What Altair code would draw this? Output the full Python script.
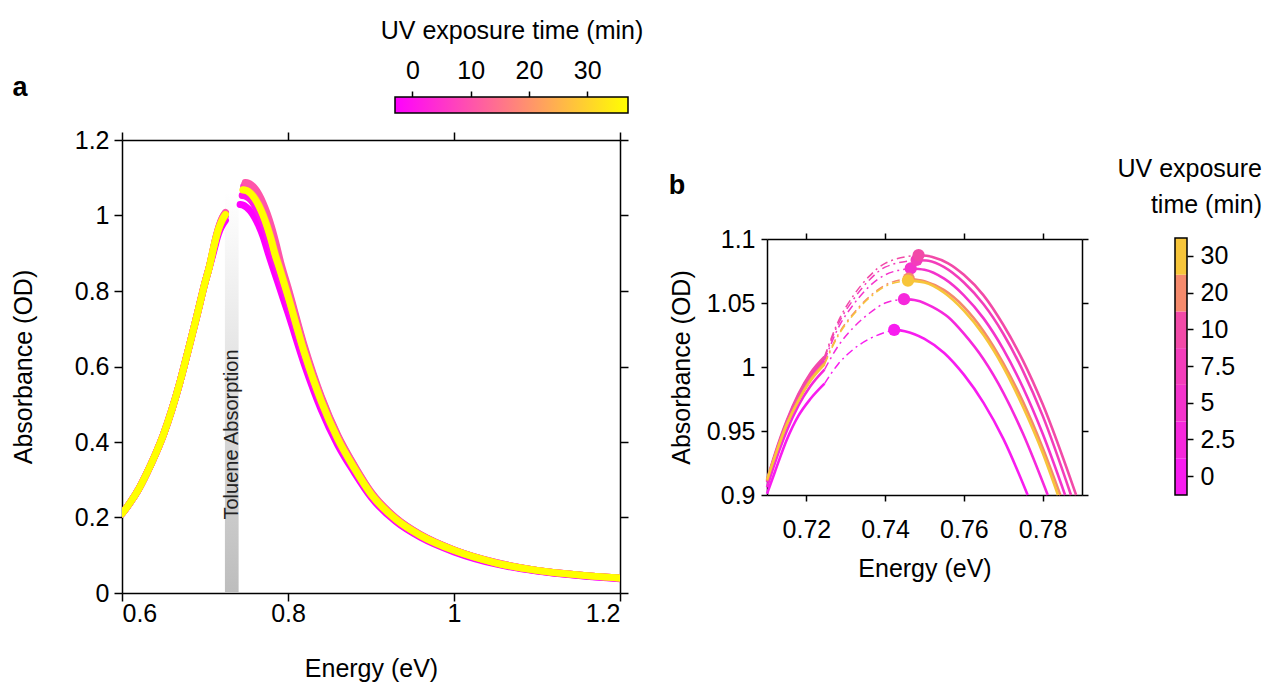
import altair as alt
import pandas as pd

FONT = "Liberation Sans"
FS = 25  # axis text size

# UV exposure times (min) and the colour used for each
times = ["0", "2.5", "5", "7.5", "10", "20", "30"]
line_colors_a = ["#ff00ff", "#ff15ea", "#ff2ad5", "#ff40bf", "#ff55aa", "#ffaa55", "#ffff00"]
line_colors_b = ["#f81cf0", "#f628dc", "#f433cc", "#f33dbb", "#f24aa8", "#f58a6c", "#f7c53a"]

# low-energy flank of the band-edge peak (identical for all exposure times)
low_E = [0.600, 0.610, 0.620, 0.630, 0.640, 0.650, 0.660, 0.670, 0.680, 0.690, 0.700, 0.705]
low_A = [0.210, 0.240, 0.275, 0.318, 0.366, 0.420, 0.485, 0.560, 0.645, 0.732, 0.822, 0.862]

# measured points just below the toluene band
pre_E = [0.710, 0.712, 0.715, 0.718, 0.721, 0.7246]
pre_A = [
    [0.901, 0.918, 0.943, 0.962, 0.975, 0.987],
    [0.906, 0.925, 0.950, 0.970, 0.985, 0.998],
    [0.910, 0.930, 0.955, 0.976, 0.992, 1.005],
    [0.911, 0.931, 0.957, 0.978, 0.994, 1.007],
    [0.912, 0.932, 0.958, 0.979, 0.995, 1.008],
    [0.911, 0.930, 0.955, 0.974, 0.990, 1.003],
    [0.912, 0.930, 0.955, 0.974, 0.989, 1.002],
]

# fitted peak position (dots) for each exposure time
peak_E = [0.7423, 0.7448, 0.7465, 0.7480, 0.7485, 0.7460, 0.7458]
peak_A = [1.029, 1.053, 1.077, 1.0836, 1.0875, 1.069, 1.0675]

# fit across the toluene band, ending at the peak
fit_E = [0.7246, 0.728, 0.732, 0.736, 0.740]
fit_A = [
    [0.987, 1.002, 1.014, 1.022, 1.027],
    [0.998, 1.016, 1.031, 1.042, 1.050],
    [1.005, 1.030, 1.049, 1.063, 1.072],
    [1.007, 1.033, 1.053, 1.068, 1.078],
    [1.008, 1.035, 1.056, 1.071, 1.081],
    [1.003, 1.025, 1.042, 1.055, 1.064],
    [1.002, 1.024, 1.041, 1.054, 1.063],
]

# high-energy side right after the peak
post_E = [
    [0.745, 0.750, 0.755, 0.760, 0.765, 0.770, 0.7762],
    [0.748, 0.752, 0.756, 0.760, 0.765, 0.770, 0.775, 0.7813],
    [0.750, 0.755, 0.760, 0.765, 0.770, 0.775, 0.780, 0.7857],
    [0.751, 0.755, 0.760, 0.765, 0.770, 0.775, 0.780, 0.7872],
    [0.752, 0.756, 0.760, 0.765, 0.770, 0.775, 0.780, 0.7885],
    [0.750, 0.755, 0.760, 0.765, 0.770, 0.775, 0.780, 0.7845],
    [0.750, 0.755, 0.760, 0.765, 0.770, 0.775, 0.780, 0.7839],
]
post_A = [
    [1.028, 1.022, 1.011, 0.994, 0.972, 0.944, 0.900],
    [1.052, 1.047, 1.039, 1.026, 1.006, 0.980, 0.948, 0.900],
    [1.076, 1.069, 1.056, 1.038, 1.014, 0.984, 0.948, 0.900],
    [1.083, 1.078, 1.066, 1.049, 1.026, 0.997, 0.962, 0.900],
    [1.086, 1.081, 1.072, 1.056, 1.033, 1.005, 0.971, 0.900],
    [1.067, 1.060, 1.047, 1.028, 1.003, 0.973, 0.937, 0.900],
    [1.066, 1.058, 1.044, 1.025, 1.000, 0.969, 0.933, 0.900],
]

# long high-energy tail
tail_E = [0.79, 0.80, 0.82, 0.84, 0.86, 0.88, 0.90, 0.93, 0.96, 1.00, 1.05, 1.10, 1.15, 1.20]
tail_A = [
    [0.808, 0.742, 0.604, 0.486, 0.392, 0.319, 0.254, 0.189, 0.147, 0.109, 0.077, 0.058, 0.046, 0.038],
    [0.836, 0.768, 0.620, 0.498, 0.401, 0.325, 0.258, 0.192, 0.150, 0.111, 0.079, 0.059, 0.047, 0.039],
    [0.861, 0.795, 0.641, 0.514, 0.413, 0.334, 0.265, 0.197, 0.153, 0.114, 0.080, 0.060, 0.048, 0.040],
    [0.874, 0.803, 0.647, 0.518, 0.416, 0.336, 0.267, 0.198, 0.154, 0.114, 0.081, 0.060, 0.048, 0.040],
    [0.886, 0.810, 0.652, 0.521, 0.418, 0.338, 0.268, 0.199, 0.154, 0.114, 0.081, 0.060, 0.048, 0.040],
    [0.862, 0.789, 0.636, 0.510, 0.409, 0.331, 0.263, 0.196, 0.152, 0.113, 0.080, 0.060, 0.048, 0.040],
    [0.858, 0.786, 0.634, 0.508, 0.408, 0.330, 0.262, 0.195, 0.152, 0.113, 0.080, 0.060, 0.048, 0.040],
]

toluene_band = [0.724, 0.7405]
cbar_range = [-3, 37]
cbar_ticks = [0, 10, 20, 30]

# ---------------- layout (pixels, relative to panel a's plot area) ----------------
W_A, H_A = 498, 453
B_X = [645, 960]      # panel b plot area, horizontal
B_Y = [99, 355]       # panel b plot area, vertical (top, bottom)
CBA_X = [273, 506]    # horizontal colour bar
CBA_Y = [-43, -27]
CBB_X = [1053, 1065]  # vertical colour bar
CBB_Y = [98, 355]

# ---------------- scales ----------------
xa_scale = alt.Scale(domain=[0.6, 1.2], nice=False, zero=False)
ya_scale = alt.Scale(domain=[0, 1.2], nice=False, zero=False)
xb_scale = alt.Scale(domain=[0.71, 0.79], nice=False, zero=False, range=B_X)
yb_scale = alt.Scale(domain=[0.9, 1.1], nice=False, zero=False, range=[B_Y[1], B_Y[0]])
xa_vals = [0.6, 0.8, 1.0, 1.2]
ya_vals = [0, 0.2, 0.4, 0.6, 0.8, 1.0, 1.2]
xb_vals = [0.72, 0.74, 0.76, 0.78]
yb_vals = [0.9, 0.95, 1.0, 1.05, 1.1]


def xa(axis=None):
    return alt.X("E:Q", scale=xa_scale, axis=axis)


def ya(axis=None):
    return alt.Y("A:Q", scale=ya_scale, axis=axis)


def xb(axis=None):
    return alt.X("E:Q", scale=xb_scale, axis=axis)


def yb(axis=None):
    return alt.Y("A:Q", scale=yb_scale, axis=axis)


anchor_a = pd.DataFrame({"E": [0.9], "A": [0.6]})
anchor_b = pd.DataFrame({"E": [0.75], "A": [1.0]})
one = pd.DataFrame({"v": [0]})

# ---------------- panel a frame ----------------
a_main = alt.Chart(anchor_a).mark_point(opacity=0).encode(
    x=xa(alt.Axis(orient="bottom", values=xa_vals, format="~g", title="Energy (eV)",
                  tickSize=8, labelPadding=0, titlePadding=30)),
    y=ya(alt.Axis(orient="left", values=ya_vals, format="~g", title="Absorbance (OD)",
                  tickSize=8, labelPadding=5, titlePadding=38)),
)
a_mirror = alt.Chart(anchor_a).mark_point(opacity=0).encode(
    x=xa(alt.Axis(orient="top", values=xa_vals, labels=False, title=None, tickSize=8)),
    y=ya(alt.Axis(orient="right", values=ya_vals, labels=False, title=None, tickSize=8)),
)

band_df = pd.DataFrame({"lo": [toluene_band[0]], "hi": [toluene_band[1]], "b0": [0.0], "b1": [1.06]})
band_fill = alt.LinearGradient(
    gradient="linear",
    stops=[alt.GradientStop(color="#ffffff", offset=0),
           alt.GradientStop(color="#ececec", offset=0.3),
           alt.GradientStop(color="#bdbdbd", offset=1)],
    x1=0, x2=0, y1=0, y2=1,
)
band = alt.Chart(band_df).mark_rect(fill=band_fill).encode(
    x=alt.X("lo:Q", scale=xa_scale, axis=None), x2="hi:Q",
    y=alt.Y("b0:Q", scale=ya_scale, axis=None), y2="b1:Q",
)
band_label = alt.Chart(pd.DataFrame({"E": [sum(toluene_band) / 2], "A": [0.42]})).mark_text(
    text="Toluene Absorption", angle=270, font=FONT, fontSize=20, color="#222222",
).encode(x=xa(), y=ya())

curves_a = []
for i, t in enumerate(times):
    left = pd.DataFrame({"E": low_E + pre_E, "A": low_A + pre_A[i], "seg": "left"})
    right = pd.DataFrame({"E": [peak_E[i]] + post_E[i] + tail_E,
                          "A": [peak_A[i]] + post_A[i] + tail_A[i], "seg": "right"})
    df = pd.concat([left, right], ignore_index=True)
    curves_a.append(
        alt.Chart(df).mark_line(color=line_colors_a[i], strokeWidth=7, strokeCap="round",
                                strokeJoin="round", interpolate="monotone", clip=True).encode(
            x=xa(), y=ya(), detail="seg:N")
    )

tag_a = alt.Chart(one).mark_text(text="a", font=FONT, fontSize=27, fontWeight="bold",
                                 color="black").encode(x=alt.value(-102), y=alt.value(-52))

# ---------------- horizontal colour bar ----------------
cbar_fill = alt.LinearGradient(
    gradient="linear",
    stops=[alt.GradientStop(color="#ff00ff", offset=0), alt.GradientStop(color="#ffff00", offset=1)],
    x1=0, x2=1, y1=0, y2=0,
)
cbar_a = alt.Chart(pd.DataFrame({"lo": [cbar_range[0]], "hi": [cbar_range[1]]})).mark_rect(
    fill=cbar_fill, stroke="black", strokeWidth=1.5).encode(
    x=alt.X("lo:Q", scale=alt.Scale(domain=cbar_range, nice=False, zero=False, range=CBA_X),
            axis=alt.Axis(orient="top", offset=-CBA_Y[0], values=cbar_ticks, domain=False,
                          tickSize=6, labelPadding=8, title="UV exposure time (min)",
                          titlePadding=15)),
    x2="hi:Q",
    y=alt.value(CBA_Y[0]), y2=alt.value(CBA_Y[1]),
)

# ---------------- panel b ----------------
b_main = alt.Chart(anchor_b).mark_point(opacity=0).encode(
    x=xb(alt.Axis(orient="bottom", offset=B_Y[1] - H_A, values=xb_vals, format="~g",
                  title="Energy (eV)", tickSize=6, labelPadding=16, titlePadding=14)),
    y=yb(alt.Axis(orient="left", offset=-B_X[0], values=yb_vals, format="~g",
                  title="Absorbance (OD)", tickSize=6, labelPadding=6, titlePadding=12)),
)
b_mirror = alt.Chart(anchor_b).mark_point(opacity=0).encode(
    x=xb(alt.Axis(orient="top", offset=-B_Y[0], values=xb_vals, labels=False, title=None, tickSize=6)),
    y=yb(alt.Axis(orient="right", offset=B_X[1] - W_A, values=yb_vals, labels=False, title=None,
                  tickSize=6)),
)

series_b = []
for i, t in enumerate(times):
    c = line_colors_b[i]
    solid = pd.concat([
        pd.DataFrame({"E": pre_E, "A": pre_A[i], "seg": "pre"}),
        pd.DataFrame({"E": [peak_E[i]] + post_E[i], "A": [peak_A[i]] + post_A[i], "seg": "post"}),
    ], ignore_index=True)
    fit = pd.DataFrame({"E": fit_E + [peak_E[i]], "A": fit_A[i] + [peak_A[i]]})
    dot = pd.DataFrame({"E": [peak_E[i]], "A": [peak_A[i]]})
    series_b.append(alt.Chart(solid).mark_line(color=c, strokeWidth=2.6,
                                               interpolate="monotone").encode(
        x=xb(), y=yb(), detail="seg:N"))
    series_b.append(alt.Chart(fit).mark_line(color=c, strokeWidth=1.5, strokeDash=[8, 4, 2, 4],
                                             interpolate="monotone").encode(x=xb(), y=yb()))
    series_b.append(alt.Chart(dot).mark_circle(color=c, size=150, opacity=1).encode(x=xb(), y=yb()))

tag_b = alt.Chart(one).mark_text(text="b", font=FONT, fontSize=27, fontWeight="bold",
                                 color="black").encode(x=alt.value(555), y=alt.value(46))

# ---------------- discrete colour bar ----------------
cb_df = pd.DataFrame({"t": times, "c": line_colors_b})
cb_rects = alt.Chart(cb_df).mark_rect().encode(
    y=alt.Y("t:O", sort=times[::-1],
            scale=alt.Scale(paddingInner=0, paddingOuter=0, range=CBB_Y),
            axis=alt.Axis(orient="right", offset=CBB_X[1] - W_A, domain=False, tickSize=6,
                          labelPadding=7, title=None)),
    x=alt.value(CBB_X[0]), x2=alt.value(CBB_X[1]),
    color=alt.Color("c:N", scale=None, legend=None),
)
cb_border = alt.Chart(one).mark_rect(fillOpacity=0, stroke="black", strokeWidth=1.5).encode(
    x=alt.value(CBB_X[0]), x2=alt.value(CBB_X[1]), y=alt.value(CBB_Y[0]), y2=alt.value(CBB_Y[1]))
cb_title = alt.Chart(one).mark_text(
    text=["UV exposure", "time (min)"], font=FONT, fontSize=FS, align="right",
    baseline="alphabetic", lineHeight=36, color="black").encode(
    x=alt.value(1140), y=alt.value(37))

chart = alt.layer(
    a_main, a_mirror, band, band_label, *curves_a, tag_a,
    cbar_a,
    b_main, b_mirror, *series_b, tag_b,
    cb_rects, cb_border, cb_title,
).resolve_scale(x="independent", y="independent").properties(
    width=W_A, height=H_A,
    autosize=alt.AutoSizeParams(type="none"),
    padding={"left": 122, "top": 140, "right": 647, "bottom": 96},
    background="white",
).configure_view(stroke=None).configure_axis(
    labelFont=FONT, labelFontSize=FS, labelColor="black",
    titleFont=FONT, titleFontSize=FS, titleFontWeight="normal", titleColor="black",
    domainColor="black", domainWidth=1.5, tickColor="black", tickWidth=1.5,
    grid=False,
)

chart.save("out.html", embed_options={"renderer": "svg", "actions": False})
